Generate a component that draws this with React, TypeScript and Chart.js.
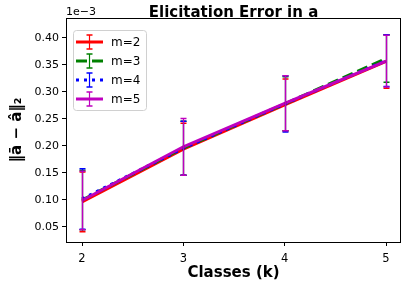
import React, { useEffect, useRef } from "react";
import { Chart, registerables } from "chart.js";

Chart.register(...registerables);

const classes = [2, 3, 4, 5];
const xTicks = [2, 3, 4, 5];
const yTicks = [0.05, 0.1, 0.15, 0.2, 0.25, 0.3, 0.35, 0.4];
const seriesLabels = ["m=2", "m=3", "m=4", "m=5"];
const seriesColors = ["#ff0000", "#008000", "#0000ff", "#bf00bf"];
const seriesDash = [[], [11, 5], [3, 5], []];
const meanM2 = [0.0965, 0.194, 0.276, 0.3565];
const meanM3 = [0.100, 0.196, 0.278, 0.362];
const meanM4 = [0.102, 0.196, 0.278, 0.358];
const meanM5 = [0.099, 0.1985, 0.279, 0.357];
const errM2 = [0.0555, 0.048, 0.048, 0.0495];
const errM3 = [0.055, 0.050, 0.050, 0.044];
const errM4 = [0.056, 0.050, 0.052, 0.048];
const errM5 = [0.054, 0.0525, 0.051, 0.048];
const means = [meanM2, meanM3, meanM4, meanM5];
const errs = [errM2, errM3, errM4, errM5];

const FONT = "'DejaVu Sans', sans-serif";

export default function App() {
  const ref = useRef<HTMLCanvasElement | null>(null);
  useEffect(() => {
    if (!ref.current) return;
    const errPlugin = {
      id: "errbars",
      afterDatasetsDraw(chart: any) {
        const { ctx, scales } = chart;
        const x = scales.x, y = scales.y;
        ctx.save();
        means.forEach((m, i) => {
          ctx.strokeStyle = seriesColors[i];
          ctx.setLineDash([]);
          m.forEach((v, j) => {
            const px = Math.round(x.getPixelForValue(classes[j])) + 0.5;
            const top = y.getPixelForValue(v + errs[i][j]);
            const bot = y.getPixelForValue(v - errs[i][j]);
            ctx.lineWidth = 1.2;
            ctx.beginPath();
            ctx.moveTo(px, top);
            ctx.lineTo(px, bot);
            ctx.stroke();
            ctx.lineWidth = 1.5;
            ctx.beginPath();
            ctx.moveTo(px - 3, top);
            ctx.lineTo(px + 3, top);
            ctx.moveTo(px - 3, bot);
            ctx.lineTo(px + 3, bot);
            ctx.stroke();
          });
        });
        ctx.restore();
      },
    };
    const decoPlugin = {
      id: "deco",
      afterDraw(chart: any) {
        const { ctx, chartArea: a } = chart;
        ctx.save();
        ctx.strokeStyle = "#000";
        ctx.lineWidth = 1;
        ctx.setLineDash([]);
        ctx.strokeRect(Math.round(a.left) + 0.5, Math.round(a.top) + 0.5, Math.round(a.right - a.left) - 1, Math.round(a.bottom - a.top));
        const cx = (a.left + a.right) / 2;
        ctx.fillStyle = "#000";
        ctx.textAlign = "center";
        ctx.textBaseline = "middle";
        ctx.font = "bold 15px " + FONT;
        ctx.fillText("Elicitation Error in a", cx, 13);
        ctx.fillText("Classes (k)", cx, 273);
        ctx.save();
        ctx.translate(17, (a.top + a.bottom) / 2);
        ctx.rotate(-Math.PI / 2);
        ctx.fillText("\u2016\u0101 \u2212 \u00e2\u2016\u2082", 0, 0);
        ctx.restore();
        ctx.textAlign = "left";
        ctx.font = "11px " + FONT;
        ctx.fillText("1e\u22123", a.left, 12);
        // legend
        const lx = 73, ly = 30, lw = 73, lh = 80;
        ctx.fillStyle = "rgba(255,255,255,0.8)";
        ctx.strokeStyle = "#d0d0d0";
        ctx.beginPath();
        (ctx as any).roundRect(lx + 0.5, ly + 0.5, lw, lh, 3);
        ctx.fill();
        ctx.stroke();
        seriesLabels.forEach((lab, i) => {
          const yy = 42 + i * 19;
          ctx.strokeStyle = seriesColors[i];
          ctx.lineWidth = 3;
          ctx.setLineDash(seriesDash[i]);
          ctx.beginPath();
          ctx.moveTo(76, yy);
          ctx.lineTo(103, yy);
          ctx.stroke();
          ctx.setLineDash([]);
          ctx.lineWidth = 1.2;
          ctx.beginPath();
          ctx.moveTo(89.5, yy - 7);
          ctx.lineTo(89.5, yy + 7);
          ctx.stroke();
          ctx.lineWidth = 1.5;
          ctx.beginPath();
          ctx.moveTo(86.5, yy - 7);
          ctx.lineTo(92.5, yy - 7);
          ctx.moveTo(86.5, yy + 7);
          ctx.lineTo(92.5, yy + 7);
          ctx.stroke();
          ctx.fillStyle = "#000";
          ctx.font = "12px " + FONT;
          ctx.textBaseline = "middle";
          ctx.fillText(lab, 111, yy + 1);
        });
        ctx.restore();
      },
    };
    const chart = new Chart(ref.current, {
      type: "line",
      data: {
        datasets: means.map((m, i) => ({
          label: seriesLabels[i],
          data: m.map((v, j) => ({ x: classes[j], y: v })),
          borderColor: seriesColors[i],
          backgroundColor: seriesColors[i],
          borderWidth: 3,
          borderDash: seriesDash[i],
          pointRadius: 0,
          tension: 0,
          fill: false,
          order: 4 - i,
        })),
      },
      options: {
        animation: false,
        responsive: false,
        layout: { padding: { top: 18, right: 7, left: 0, bottom: 0 } },
        plugins: { legend: { display: false }, tooltip: { enabled: false } },
        scales: {
          x: {
            type: "linear",
            min: 1.842,
            max: 5.148,
            afterBuildTicks: (s: any) => { s.ticks = xTicks.map((v) => ({ value: v })); },
            afterFit: (s: any) => { s.height = 46; },
            grid: { drawOnChartArea: false, drawTicks: true, tickLength: 4, color: "#000", tickColor: "#000" },
            border: { display: false },
            ticks: { color: "#000", font: { family: FONT, size: 11.5 }, padding: 6, maxRotation: 0, callback: (v: any) => String(v) },
          },
          y: {
            type: "linear",
            min: 0.0222,
            max: 0.437,
            afterBuildTicks: (s: any) => { s.ticks = yTicks.map((v) => ({ value: v })); },
            afterFit: (s: any) => { s.width = 66; },
            grid: { drawOnChartArea: false, drawTicks: true, tickLength: 4, color: "#000", tickColor: "#000" },
            border: { display: false },
            ticks: { color: "#000", font: { family: FONT, size: 11 }, padding: 3, callback: (v: any) => Number(v).toFixed(2) },
          },
        },
      },
      plugins: [errPlugin, decoPlugin],
    } as any);
    return () => chart.destroy();
  }, []);
  return (
    <div style={{ position: "absolute", left: 0, top: 0, width: 408, height: 288, background: "#fff" }}>
      <canvas ref={ref} width={408} height={288} style={{ display: "block" }} />
    </div>
  );
}
